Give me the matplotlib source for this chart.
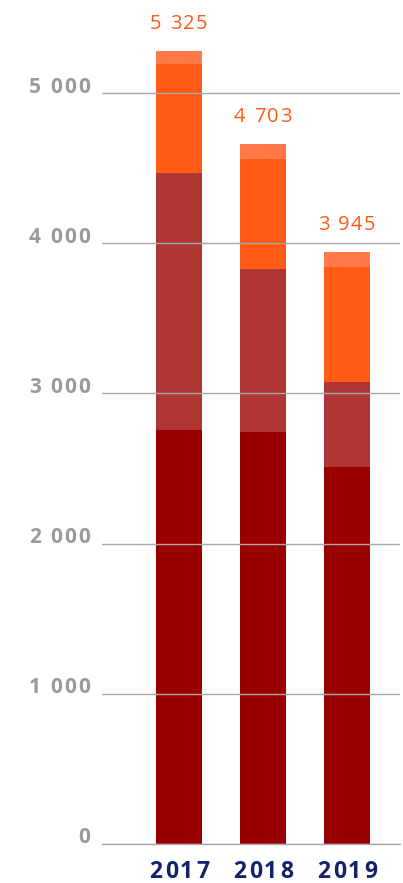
import matplotlib
matplotlib.use("Agg")
import matplotlib.pyplot as plt
from matplotlib import font_manager as fm
from matplotlib.ft2font import FT2Font

plt.rcParams['font.family'] = ['Open Sans', 'DejaVu Sans']

# Data
years = ["2017", "2018", "2019"]
base = [2757, 2743, 2511]
middle = [1711, 1087, 566]
upper = [728, 732, 767]
top = [86, 100, 100]
totals = ["5 325", "4 703", "3 945"]
y_ticks = [0, 1000, 2000, 3000, 4000, 5000]
y_tick_labels = ["0", "1 000", "2 000", "3 000", "4 000", "5 000"]

colors = ["#9B0000", "#AF3434", "#FF5A16", "#FF7A48"]
DPI = 100


def char_advances(s, size, weight):
    path = fm.findfont(fm.FontProperties(family="Open Sans", weight=weight))
    f = FT2Font(path)
    f.set_size(size, DPI)
    return [f.load_char(ord(c)).linearHoriAdvance / 65536 for c in s]


def spaced_text(ax, xy, xycoords, s, size, weight, color, spacing, align, dx=0, dy=0):
    # draw text one letter at a time to get the letter spacing of the original
    adv = char_advances(s, size, weight)
    total = sum(adv) + spacing * (len(s) - 1)
    start = {"center": -total / 2, "right": -total, "left": 0}[align]
    pos = start + dx
    for c, a in zip(s, adv):
        if c != " ":
            ax.annotate(c, xy, xycoords=xycoords, xytext=(round(pos), dy),
                        textcoords="offset pixels", ha="left", va="baseline",
                        fontsize=size, fontweight=weight, color=color,
                        annotation_clip=False)
        pos += a + spacing


fig = plt.figure(figsize=(4.03, 8.83), dpi=DPI)
ax = fig.add_axes([102 / 403, (883 - 843.7) / 883, 298 / 403, 843.7 / 883])

x = list(range(len(years)))
bottom = [0] * len(years)
for series, c in zip([base, middle, upper, top], colors):
    ax.bar(x, series, bottom=bottom, width=0.548, color=c, zorder=2)
    bottom = [b + s for b, s in zip(bottom, series)]

ax.set_xlim(-0.917, 2.631)
ax.set_ylim(0, 5622)

for xi, total_top, lab in zip(x, bottom, totals):
    spaced_text(ax, (xi, total_top), "data", lab, 14.5, "normal", "#FF5A16",
                1.5, "center", dy=22)

for v, lab in zip(y_ticks, y_tick_labels):
    spaced_text(ax, (0, v), ax.get_yaxis_transform(), lab, 15, "bold", "#9A9A9A",
                2.0, "right", dx=-12, dy=0.5)

for xi, lab in zip(x, years):
    spaced_text(ax, (xi, 0), "data", lab, 16.5, "bold", "#14226E",
                2.4, "center", dy=-34.5)

ax.set_yticks(y_ticks)
ax.set_yticklabels([])
ax.set_xticks([])
ax.tick_params(axis="y", length=0)

ax.grid(axis="y", color="#A8A8A8", linewidth=1, zorder=3)
ax.axhline(0, color="#A8A8A8", linewidth=1, zorder=3, clip_on=False)
ax.set_axisbelow(False)
for s in ax.spines.values():
    s.set_visible(False)

fig.savefig("out.png", dpi=DPI)
